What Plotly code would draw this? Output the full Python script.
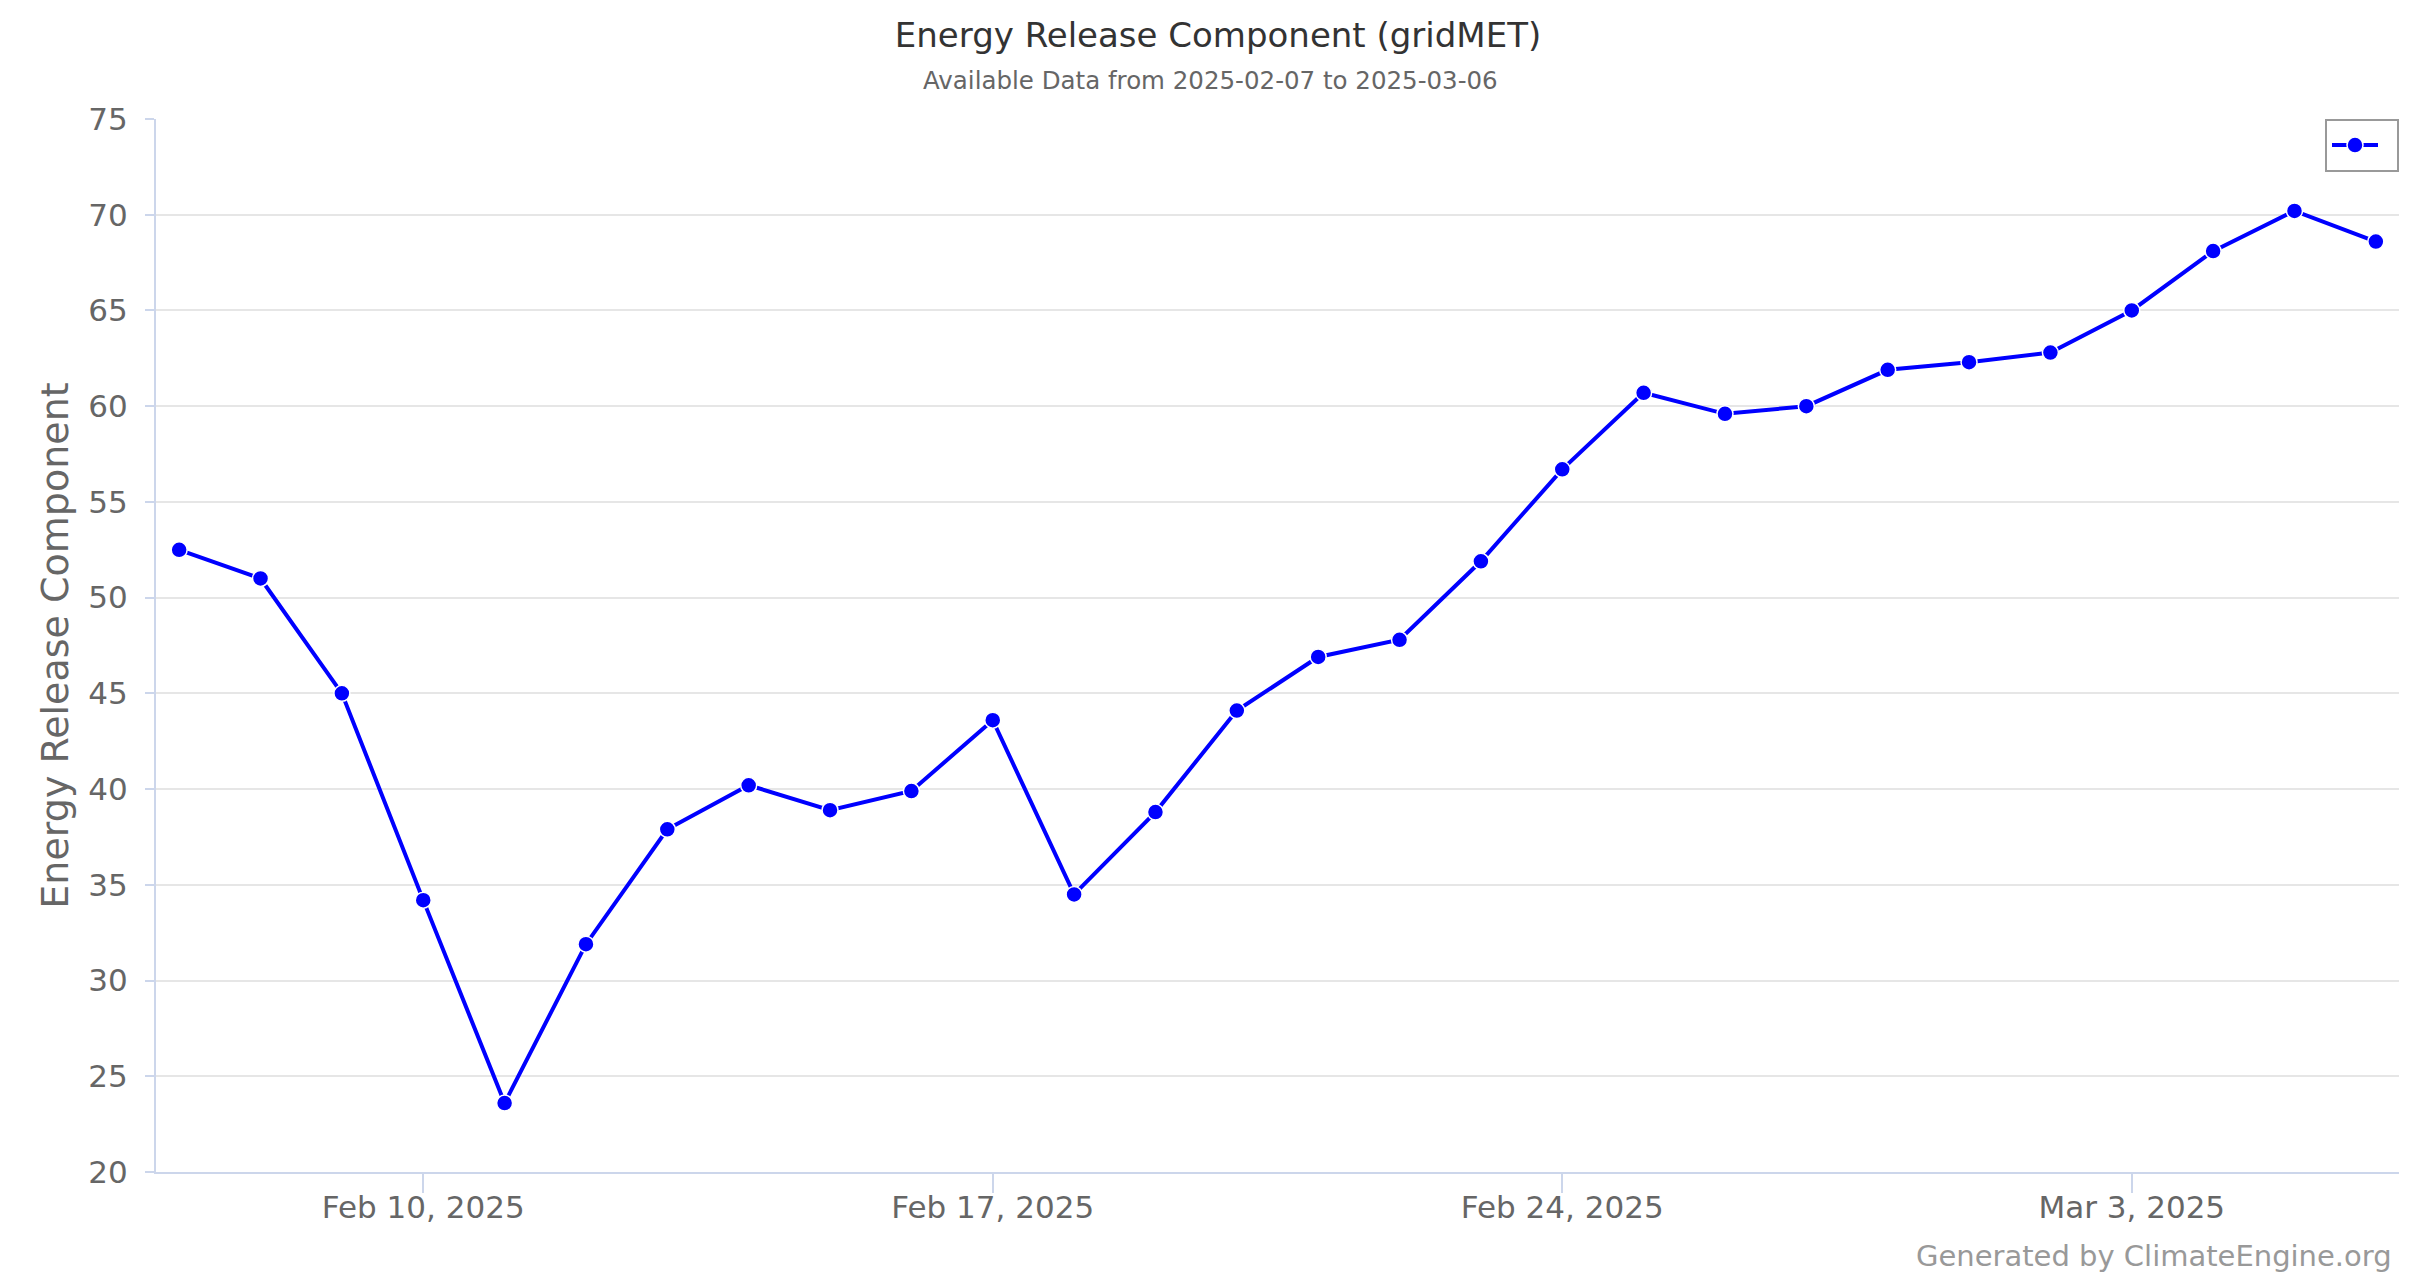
import plotly.graph_objects as go
import pandas as pd

dates = pd.date_range("2025-02-07", "2025-03-06", freq="D").strftime("%Y-%m-%d").tolist()
erc_values = [52.5, 51.0, 45.0, 34.2, 23.6, 31.9, 37.9, 40.2, 38.9, 39.9, 43.6, 34.5,
              38.8, 44.1, 46.9, 47.8, 51.9, 56.7, 60.7, 59.6, 60.0, 61.9, 62.3, 62.8,
              65.0, 68.1, 70.2, 68.6]
y_ticks = [20, 25, 30, 35, 40, 45, 50, 55, 60, 65, 70, 75]
x_tick_dates = ["2025-02-10", "2025-02-17", "2025-02-24", "2025-03-03"]
x_tick_labels = ["Feb 10, 2025", "Feb 17, 2025", "Feb 24, 2025", "Mar 3, 2025"]

FONT = "DejaVu Sans"

# plot area in figure pixels
L, R, T, B = 148, 29, 111, 122
PW, PH = 2420 - L - R, 1286 - T - B

fig = go.Figure()
fig.add_trace(go.Scatter(
    x=dates, y=erc_values, mode="lines+markers", name=" ",
    line=dict(color="#0000ff", width=4),
    marker=dict(color="#0000ff", size=16, line=dict(color="#ffffff", width=1.5)),
))

fig.update_layout(
    width=2420, height=1286,
    margin=dict(l=L, r=R, t=T, b=B),
    paper_bgcolor="#ffffff", plot_bgcolor="#ffffff",
    font=dict(family=FONT, color="#666666"),
    title=dict(text="Energy Release Component (gridMET)", x=0.5, xanchor="center",
               xref="container", y=1 - 27 / 1286, yref="container", yanchor="middle",
               font=dict(family=FONT, size=34, color="#333333")),
    showlegend=True,
    legend=dict(x=1, y=1, xanchor="right", yanchor="top", bordercolor="#999999",
                borderwidth=2, bgcolor="#ffffff", itemwidth=46,
                font=dict(size=27)),
    xaxis=dict(
        range=["2025-02-06 17:10", "2025-03-06 06:50"],
        tickvals=x_tick_dates, ticktext=x_tick_labels,
        showgrid=False, showline=True, linecolor="#ccd6eb", linewidth=2,
        ticks="outside", ticklen=19, tickcolor="#ccd6eb", tickwidth=1.5,
        ticklabelstandoff=-12,
        tickfont=dict(family=FONT, size=31, color="#666666"),
        zeroline=False, automargin=False,
    ),
    yaxis=dict(
        range=[20, 75], tickvals=y_ticks,
        showgrid=True, gridcolor="#e6e6e6", gridwidth=1.5,
        showline=True, linecolor="#ccd6eb", linewidth=2,
        ticks="outside", ticklen=9, tickcolor="#ccd6eb", tickwidth=1.5,
        ticklabelstandoff=11,
        tickfont=dict(family=FONT, size=31, color="#666666"),
        title=dict(text="Energy Release Component", standoff=8,
                   font=dict(family=FONT, size=38, color="#666666")),
        zeroline=False, automargin=False,
    ),
    annotations=[
        dict(text="Available Data from 2025-02-07 to 2025-03-06", xref="paper", yref="paper",
             x=(1210 - 8 - L) / PW, y=(1286 - B - 72) / PH, xanchor="center", yanchor="middle",
             showarrow=False, font=dict(family=FONT, size=24.5, color="#666666")),
        dict(text="Generated by ClimateEngine.org", xref="paper", yref="paper",
             x=(2386 - L) / PW, y=(1286 - B - 1248) / PH, xanchor="right", yanchor="middle",
             showarrow=False, font=dict(family=FONT, size=29, color="#999999")),
    ],
)

fig.write_html("out.html")
